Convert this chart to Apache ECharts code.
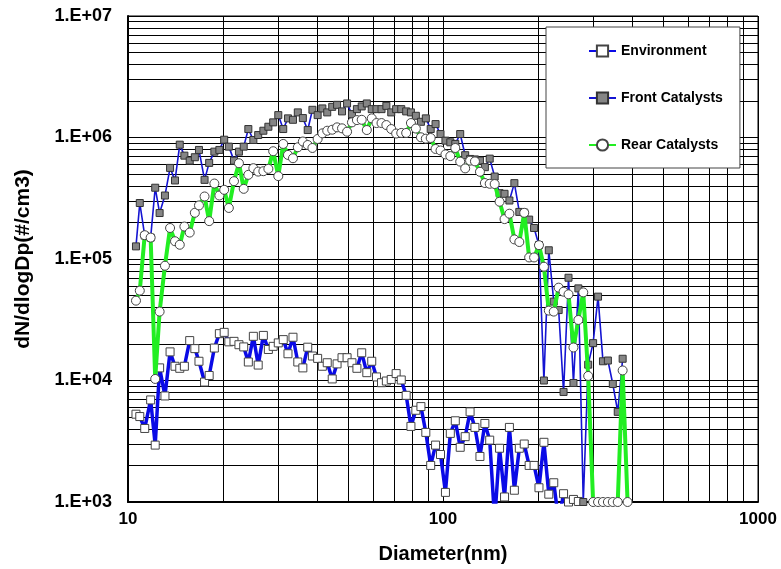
<!DOCTYPE html>
<html>
<head>
<meta charset="utf-8">
<script src="https://cdn.jsdelivr.net/npm/echarts@6/dist/echarts.min.js"></script>
<style>
html,body{margin:0;padding:0;background:#fff;}
#chart{width:781px;height:569px;}
</style>
</head>
<body>
<div id="chart"></div>
<script>
// Particle diameters (nm)
const diameters = [10.6, 10.9, 11.3, 11.8, 12.2, 12.6, 13.1, 13.6, 14.1, 14.6, 15.1, 15.7, 16.3, 16.8, 17.5, 18.1, 18.8, 19.5, 20.2, 20.9,
  21.7, 22.5, 23.3, 24.1, 25.0, 25.9, 26.9, 27.9, 28.9, 30.0, 31.1, 32.2, 33.4, 34.6, 35.9, 37.2, 38.5, 40.0, 41.4, 42.9,
  44.5, 46.1, 47.8, 49.6, 51.4, 53.3, 55.2, 57.3, 59.4, 61.5, 63.8, 66.1, 68.5, 71.0, 73.7, 76.4, 79.1, 82.0, 85.1, 88.2,
  91.4, 94.7, 98.2, 101.8, 105.5, 109.4, 113.4, 117.6, 121.9, 126.3, 131.0, 135.8, 140.7, 145.9, 151.2, 156.8, 162.5, 168.5, 174.7, 181.1,
  187.7, 194.6, 201.7, 209.1, 216.7, 224.7, 232.9, 241.4, 250.3, 259.5, 269.0, 278.8, 289.0, 299.6, 310.6, 322.0, 333.8, 346.0, 358.7, 371.8,
  385.4];

const environment = [5280, 5050, 4030, 6920, 2940, 12700, 7460, 17200, 13100, 12600,
  13100, 21300, 18300, 14400, 9710, 11000, 18500, 24300, 24900, 20800,
  21000, 19700, 18900, 14200, 23100, 13400, 23500, 18000, 19100, 20400,
  21700, 16600, 22700, 14200, 12700, 18800, 15900, 15200, 13100, 14000,
  10300, 13700, 15400, 15400, 14000, 12600, 16900, 11600, 14400, 10700,
  9590, 9900, 10200, 11400, 10100, 7550, 4190, 5690, 6100, 3740,
  2000, 2940, 2460, 1200, 3670, 4660, 2820, 3450, 5520, 4110,
  2370, 4430, 3230, 700, 2770, 1100, 4110, 1250, 2770, 3000,
  2000, 2000, 1310, 3100, 1160, 1440, 700, 1170, 1000, 1050,
  1010];

const frontCatalysts = [127000, 289000, 156000, 150000, 386000, 239000, 333000, 562000, 443000, 873000,
  709000, 645000, 688000, 790000, 448000, 618000, 765000, 790000, 959000, 841000,
  645000, 765000, 841000, 1174000, 954000, 1048000, 1137000, 1226000, 1332000, 1529000,
  1174000, 1437000, 1399000, 1609000, 1445000, 1152000, 1690000, 1529000, 1735000, 1609000,
  1788000, 1857000, 1640000, 1906000, 1558000, 1712000, 1802000, 1906000, 1712000, 1712000,
  1712000, 1822000, 1609000, 1712000, 1712000, 1640000, 1609000, 1509000, 1347000, 1437000,
  1174000, 1290000, 1068000, 942000, 913000, 885000, 1068000, 715000, 666000, 660000,
  645000, 570000, 670000, 477000, 348000, 344000, 303000, 421000, 244000, 241000,
  211000, 180000, 130000, 10000, 118000, 44600, 38000, 8050, 70100, 9540,
  57300, 1000, 13500, 20300, 49000, 14400, 14600, 9360, 5520, 15100];

const rearCatalysts = [45400, 54900, 157000, 150000, 10300, 36900, 88000, 180000, 140000, 131000,
  185000, 165000, 240000, 276000, 327000, 205000, 418000, 333000, 371000, 263000,
  437000, 614000, 378000, 493000, 559000, 524000, 528000, 552000, 771000, 481000,
  885000, 719000, 675000, 831000, 927000, 868000, 820000, 972000, 1082000, 1137000,
  1159000, 1212000, 1190000, 1116000, 1332000, 1391000, 1399000, 1152000, 1437000, 1315000,
  1315000, 1266000, 1174000, 1078000, 1090000, 1090000, 1315000, 1185000, 1004000, 978000,
  991000, 805000, 782000, 726000, 703000, 820000, 633000, 557000, 645000, 636000,
  522000, 422000, 416000, 414000, 296000, 213000, 236000, 145000, 138000, 240000,
  103000, 103000, 130000, 86400, 37600, 36900, 58100, 53800, 51200, 18700,
  31500, 53100, 10900, 1000, 1000, 1000, 1000, 1000, 1000, 12100,
  1000];

const seriesNames = ['Environment', 'Front Catalysts', 'Rear Catalysts'];
const xMinorGrid = [20, 30, 40, 50, 60, 70, 80, 90, 200, 300, 400, 500, 600, 700, 800, 900];
const yMinorGrid = [2e3, 3e3, 4e3, 5e3, 6e3, 7e3, 8e3, 9e3, 2e4, 3e4, 4e4, 5e4, 6e4, 7e4, 8e4, 9e4,
  2e5, 3e5, 4e5, 5e5, 6e5, 7e5, 8e5, 9e5, 2e6, 3e6, 4e6, 5e6, 6e6, 7e6, 8e6, 9e6];

function pairs(values) {
  return values.map((v, i) => [diameters[i], v]);
}

const FONT = 'Liberation Sans, Arial, sans-serif';
const chart = echarts.init(document.getElementById('chart'), null, {renderer: 'canvas'});

chart.setOption({
  animation: false,
  backgroundColor: '#fff',
  grid: {left: 128, top: 16, width: 630, height: 488, show: true, borderColor: '#000', borderWidth: 1},
  legend: {
    data: seriesNames,
    orient: 'vertical',
    left: 546, top: 27,
    padding: [17, 17, 16, 42],
    itemGap: 33,
    itemWidth: 27, itemHeight: 14,
    backgroundColor: '#fff',
    borderColor: '#444', borderWidth: 1,
    textStyle: {fontFamily: FONT, fontWeight: 'bold', fontSize: 14, color: '#000', lineHeight: 14}
  },
  xAxis: {
    type: 'log', logBase: 10, min: 10, max: 1000,
    name: 'Diameter(nm)', nameLocation: 'middle', nameGap: 42,
    nameTextStyle: {fontFamily: FONT, fontWeight: 'bold', fontSize: 20, color: '#000'},
    axisLine: {show: true, onZero: false, lineStyle: {color: '#000', width: 2}},
    axisTick: {show: false},
    axisLabel: {fontFamily: FONT, fontWeight: 'bold', fontSize: 17, color: '#000', margin: 9,
      formatter: v => String(Math.round(v))},
    splitLine: {show: true, lineStyle: {color: '#000', width: 1}}
  },
  yAxis: {
    type: 'log', logBase: 10, min: 1000, max: 1e7,
    name: 'dN/dlogDp(#/cm3)', nameLocation: 'middle', nameGap: 94,
    nameTextStyle: {fontFamily: FONT, fontWeight: 'bold', fontSize: 21, color: '#000'},
    axisLine: {show: true, onZero: false, lineStyle: {color: '#000', width: 2}},
    axisTick: {show: false},
    axisLabel: {fontFamily: FONT, fontWeight: 'bold', fontSize: 18, color: '#000', margin: 16,
      formatter: v => '1.E+0' + Math.round(Math.log10(v))},
    splitLine: {show: true, lineStyle: {color: '#000', width: 1}}
  },
  series: [
    {
      type: 'line', name: '_minorGrid', data: [], silent: true, z: 1,
      markLine: {
        silent: true, z: 1, symbol: ['none', 'none'], label: {show: false},
        emphasis: {disabled: true}, animation: false,
        lineStyle: {color: '#000', width: 1, type: 'solid'},
        data: yMinorGrid.map(v => ({yAxis: v})).concat(xMinorGrid.map(v => ({xAxis: v})))
      }
    },
    {
      type: 'line', name: 'Environment', data: pairs(environment), z: 3,
      symbol: 'rect', symbolSize: 8,
      lineStyle: {color: '#0A0AE6', width: 3.5},
      itemStyle: {color: '#fff', borderColor: '#444', borderWidth: 1}
    },
    {
      type: 'line', name: 'Front Catalysts', data: pairs(frontCatalysts), z: 4,
      symbol: 'rect', symbolSize: 7,
      lineStyle: {color: '#1414D2', width: 1.6},
      itemStyle: {color: '#858585', borderColor: '#333', borderWidth: 1}
    },
    {
      type: 'line', name: 'Rear Catalysts', data: pairs(rearCatalysts), z: 5,
      symbol: 'circle', symbolSize: 9,
      lineStyle: {color: '#22EE22', width: 4},
      itemStyle: {color: '#fff', borderColor: '#444', borderWidth: 1}
    }
  ]
});
</script>
</body>
</html>
